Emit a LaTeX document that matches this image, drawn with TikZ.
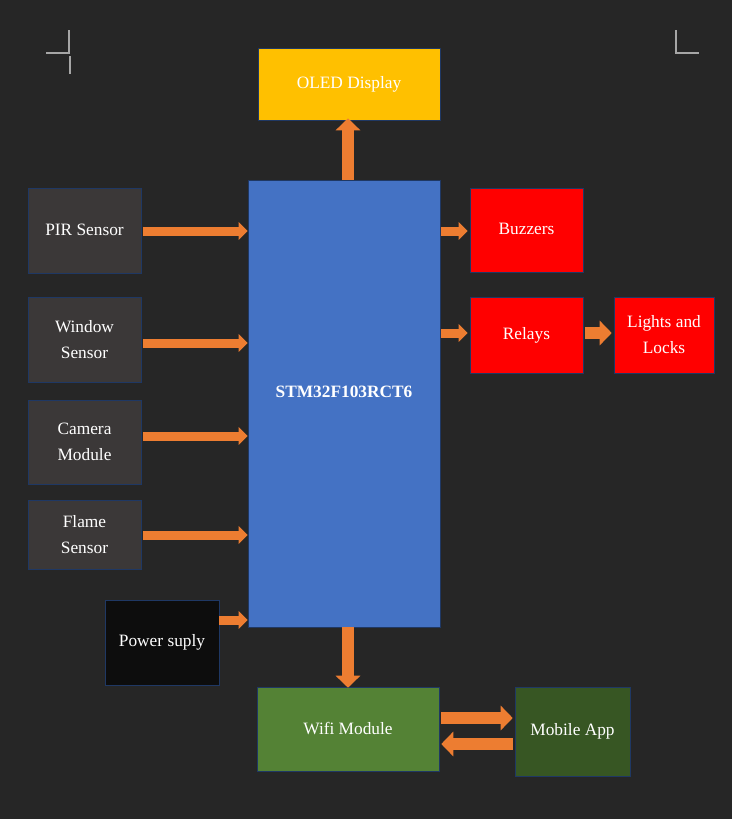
\documentclass[tikz,border=0pt]{standalone}
\usepackage{fontspec}
\setmainfont{Liberation Serif}
\usetikzlibrary{arrows.meta}
\definecolor{bg}{HTML}{262626}
\definecolor{grayb}{HTML}{3B3838}
\definecolor{oled}{HTML}{FFC000}
\definecolor{stm}{HTML}{4472C4}
\definecolor{wifi}{HTML}{548235}
\definecolor{mob}{HTML}{375623}
\definecolor{pwr}{HTML}{0D0D0D}
\definecolor{org}{HTML}{ED7D31}
\definecolor{edge}{HTML}{1F3864}
\definecolor{cmarkcol}{HTML}{A6A6A6}
\newcommand{\bx}[7]{\node[box, fill=#6, minimum width={(#4-#2)*0.75pt}, minimum height={(#5-#3)*0.75pt}] (#1) at ({(#2+#4)/2},{(#3+#5)/2}) {#7};}
\tikzset{
  box/.style={draw=edge, line width=0.4pt, inner sep=0pt, text=white, align=center, font=\fontsize{13}{19.5}\selectfont},
  arrs/.style={org, line width=6.75pt, -{Triangle[width=12.75pt,length=6.75pt]}},
  arrl/.style={org, line width=9pt, -{Triangle[width=18pt,length=9pt]}},
  cmark/.style={cmarkcol, line width=1.2pt}
}
\begin{document}
\begin{tikzpicture}[x=0.75pt,y=-0.75pt]
\fill[bg] (0,0) rectangle (732,819);
\useasboundingbox (0,0) rectangle (732,819);
% corner marks
\draw[cmark] (46,53) -- (69,53) -- (69,30);
\draw[cmark] (70,56) -- (70,74);
\draw[cmark] (676,30) -- (676,53) -- (699,53);
% boxes
\bx{oled}{258}{48}{440}{120}{oled}{\raisebox{1.5pt}{OLED Display}}
\bx{stm}{248}{180}{440}{627}{stm}{\raisebox{18pt}{\textbf{STM32F103RCT6}}}
\bx{pir}{28}{188}{141}{273}{grayb}{\raisebox{1.5pt}{PIR Sensor}}
\bx{win}{28}{297}{141}{382}{grayb}{Window\\Sensor}
\bx{cam}{28}{400}{141}{484}{grayb}{Camera\\Module}
\bx{flame}{28}{500}{141}{569}{grayb}{Flame\\Sensor}
\bx{pwr}{105}{600}{219}{685}{pwr}{Power suply}
\bx{buz}{470}{188}{583}{272}{red}{\raisebox{1.5pt}{Buzzers}}
\bx{rel}{470}{297}{583}{373}{red}{Relays}
\bx{lights}{614}{297}{714}{373}{red}{Lights and\\Locks}
\bx{wifi}{257}{687}{439}{771}{wifi}{Wifi Module}
\bx{mob}{515}{687}{630}{776}{mob}{Mobile App}
% arrows
\draw[arrs] ([xshift=1.5pt]pir.east |- 0,231) -- (stm.west |- 0,231);
\draw[arrs] ([xshift=1.5pt]win.east |- 0,343) -- (stm.west |- 0,343);
\draw[arrs] ([xshift=1.5pt]cam.east |- 0,436) -- (stm.west |- 0,436);
\draw[arrs] ([xshift=1.5pt]flame.east |- 0,535) -- (stm.west |- 0,535);
\draw[arrs] (pwr.east |- 0,620) -- (stm.west |- 0,620);
\draw[arrs] ([xshift=0.75pt]stm.east |- 0,231) -- ([xshift=-1.5pt]buz.west |- 0,231);
\draw[arrs] ([xshift=0.75pt]stm.east |- 0,333) -- ([xshift=-1.5pt]rel.west |- 0,333);
\draw[arrl] ([xshift=1.5pt]rel.east |- 0,333) -- ([xshift=-1.5pt]lights.west |- 0,333);
\draw[arrl] (stm.north -| 348,0) -- ([yshift=1.5pt]oled.south -| 348,0);
\draw[arrl] (stm.south -| 348,0) -- ([yshift=-0.75pt]wifi.north -| 348,0);
\draw[arrl] ([xshift=1.5pt]wifi.east |- 0,718) -- ([xshift=-1.5pt]mob.west |- 0,718);
\draw[arrl] ([xshift=-1.5pt]mob.west |- 0,744) -- ([xshift=1.5pt]wifi.east |- 0,744);
\end{tikzpicture}
\end{document}
